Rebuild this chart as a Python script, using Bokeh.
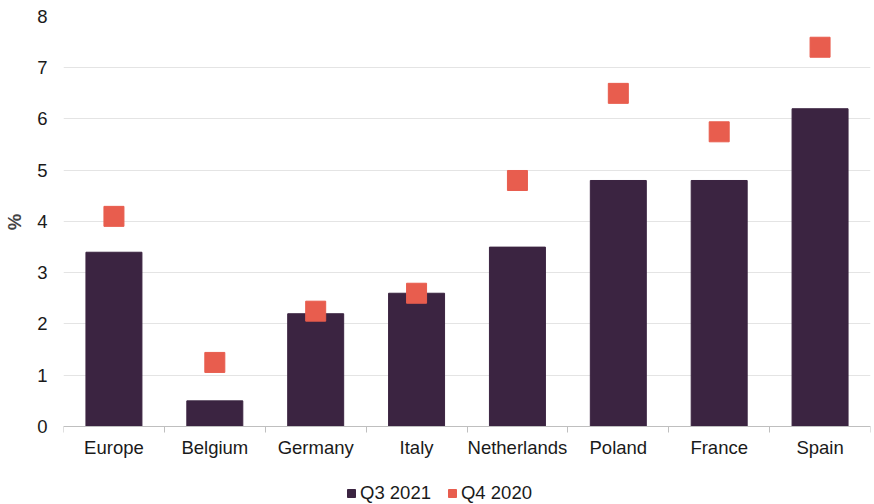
from bokeh.plotting import figure
from bokeh.models import ColumnDataSource, FixedTicker, Legend, LegendItem, Range1d
from bokeh.embed import file_html
from bokeh.resources import INLINE

categories = ["Europe", "Belgium", "Germany", "Italy", "Netherlands", "Poland", "France", "Spain"]
q3_2021 = [3.4, 0.5, 2.2, 2.6, 3.5, 4.8, 4.8, 6.2]
q4_2020 = [4.1, 1.25, 2.25, 2.6, 4.8, 6.5, 5.75, 7.4]
y_ticks = [0, 1, 2, 3, 4, 5, 6, 7, 8]
series_labels = ["Q3 2021", "Q4 2020"]
y_label = "%"

BAR = "#3B2441"
MARK = "#E85D4E"
FONT = "Liberation Sans"
FS = "18.5px"

xs = [i + 0.5 for i in range(len(categories))]
src = ColumnDataSource(dict(x=xs, cat=categories, q3=q3_2021, q4=q4_2020))

# frame spans the whole lower area so the legend can sit inside it;
# the x axis is pinned at y = 0
p = figure(width=872, height=504, output_backend="svg", toolbar_location=None,
           x_range=Range1d(0, len(categories)), y_range=Range1d(-1.522, 8),
           min_border_left=63, min_border_right=2, min_border_top=16, min_border_bottom=0)
p.outline_line_color = None
p.background_fill_color = "white"
p.border_fill_color = "white"

r_bar = p.vbar(x="x", top="q3", width=0.555, source=src, fill_color=BAR, line_color=BAR)
r_mk = p.rect(x="x", y="q4", width=20, height=20, width_units="screen",
              height_units="screen", source=src, fill_color=MARK, line_color=MARK)

# x axis
p.xaxis.fixed_location = 0
p.xaxis.ticker = FixedTicker(ticks=xs, minor_ticks=list(range(len(categories) + 1)))
p.xaxis.major_label_overrides = {x: c for x, c in zip(xs, categories)}
p.xaxis.major_tick_out = 0
p.xaxis.major_tick_in = 0
p.xaxis.minor_tick_out = 6
p.xaxis.minor_tick_in = 0
p.xaxis.minor_tick_line_color = "#bfbfbf"
p.xaxis.axis_line_color = "#bfbfbf"
p.xaxis.major_label_text_font = FONT
p.xaxis.major_label_text_font_size = FS
p.xaxis.major_label_text_color = "#1a1a1a"
p.xaxis.major_label_standoff = 5
p.xgrid.grid_line_color = None

# y axis
p.yaxis.ticker = FixedTicker(ticks=y_ticks)
p.yaxis.axis_line_color = None
p.yaxis.major_tick_line_color = None
p.yaxis.minor_tick_line_color = None
p.yaxis.major_tick_out = 0
p.yaxis.major_tick_in = 0
p.yaxis.minor_tick_out = 0
p.yaxis.minor_tick_in = 0
p.yaxis.major_label_text_font = FONT
p.yaxis.major_label_text_font_size = FS
p.yaxis.major_label_text_color = "#1a1a1a"
p.yaxis.major_label_standoff = 16
# padding (non-breaking spaces) lifts the label to the centre of the 0-8 span
p.yaxis.axis_label = "\u00a0" * 15 + y_label
p.yaxis.axis_label_text_font = FONT
p.yaxis.axis_label_text_font_size = FS
p.yaxis.axis_label_text_font_style = "bold"
p.yaxis.axis_label_standoff = 9
p.ygrid.grid_line_color = "#e4e4e4"
p.ygrid.grid_line_width = 1

legend = Legend(items=[LegendItem(label=series_labels[0], renderers=[r_bar]),
                       LegendItem(label=series_labels[1], renderers=[r_mk])],
                orientation="horizontal", location=(283, 0),
                glyph_width=10, glyph_height=10, spacing=16, label_standoff=4,
                label_text_font=FONT, label_text_font_size=FS,
                label_text_color="#1a1a1a", border_line_color=None,
                background_fill_alpha=0, padding=0, margin=0)
p.add_layout(legend)

open("out.html", "w").write(file_html(p, INLINE))
